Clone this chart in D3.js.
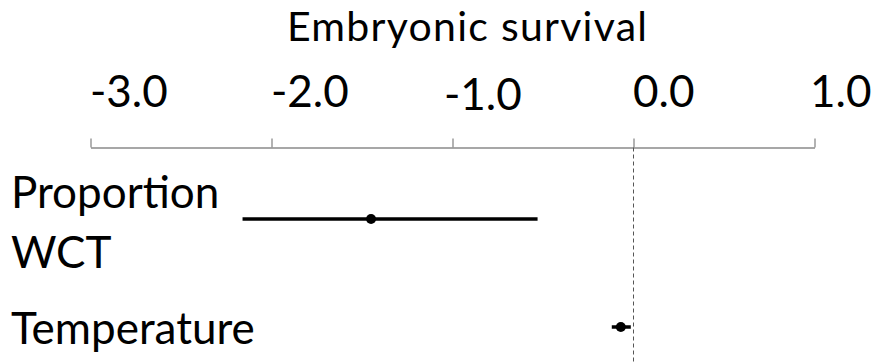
<!DOCTYPE html>
<html>
<head>
<meta charset="utf-8">
<script src="https://cdn.jsdelivr.net/npm/d3@7/dist/d3.min.js"></script>
<style>
  html, body { margin: 0; padding: 0; background: #fff; }
  svg text { font-family: Lato, "Open Sans", sans-serif; fill: #000; }
</style>
</head>
<body>
<svg id="chart" width="874" height="362"></svg>
<script>
// Effect estimates on embryonic survival with confidence intervals
const predictors = ["Proportion WCT", "Temperature"];
const labelLines = [["Proportion", "WCT"], ["Temperature"]];
const estimates = [-1.45, -0.07];
const lowerCI = [-2.16, -0.12];
const upperCI = [-0.53, -0.015];
const tickValues = [-3, -2, -1, 0, 1];
const tickLabels = ["-3.0", "-2.0", "-1.0", "0.0", "1.0"];

const svg = d3.select("#chart");
const axisY = 147.5;
const fontSize = "44px";

const x = d3.scaleLinear().domain([-3, 1]).range([90.5, 814.5]);
const y = d3.scalePoint().domain(predictors).range([219, 327]);

// Title
svg.append("text")
  .attr("x", 467)
  .attr("y", 41)
  .attr("text-anchor", "middle")
  .attr("textLength", 360)
  .attr("lengthAdjust", "spacing")
  .style("font-size", "41px")
  .text("Embryonic survival");

// Top axis
const axis = d3.axisTop(x)
  .tickValues(tickValues)
  .tickSize(9)
  .tickSizeOuter(0)
  .tickFormat((d, i) => tickLabels[i]);

const gAxis = svg.append("g")
  .attr("transform", `translate(0,${axisY})`)
  .call(axis);

gAxis.select(".domain").attr("stroke", "#8a8a8a").attr("stroke-width", 1.3);
gAxis.selectAll(".tick line").attr("stroke", "#8a8a8a").attr("stroke-width", 1.3);
gAxis.selectAll(".tick text")
  .attr("text-anchor", "start")
  .attr("x", d => (d === -1 ? -9 : (d === 1 ? -5 : -1)))
  .attr("y", d => (d === -1 ? -37.5 : -41))
  .attr("dy", 0)
  .style("font-size", fontSize)
  .attr("fill", "#000");

// Zero reference line
svg.append("line")
  .attr("x1", x(0)).attr("x2", x(0))
  .attr("y1", axisY).attr("y2", 362)
  .attr("stroke", "#555")
  .attr("stroke-width", 1)
  .attr("stroke-dasharray", "4,3");

// Predictor labels
const labelBaselines = [[208, 268], [344]];
predictors.forEach((p, i) => {
  labelLines[i].forEach((line, j) => {
    svg.append("text")
      .attr("x", 11)
      .attr("y", labelBaselines[i][j])
      .style("font-size", fontSize)
      .text(line);
  });
});

// Confidence intervals
svg.selectAll(".ci")
  .data(predictors)
  .join("line")
  .attr("class", "ci")
  .attr("x1", (d, i) => x(lowerCI[i]))
  .attr("x2", (d, i) => x(upperCI[i]))
  .attr("y1", d => y(d))
  .attr("y2", d => y(d))
  .attr("stroke", "#000")
  .attr("stroke-width", 3.5);

// Point estimates
svg.selectAll(".est")
  .data(predictors)
  .join("circle")
  .attr("class", "est")
  .attr("cx", (d, i) => x(estimates[i]))
  .attr("cy", d => y(d))
  .attr("r", 5)
  .attr("fill", "#000");
</script>
</body>
</html>
